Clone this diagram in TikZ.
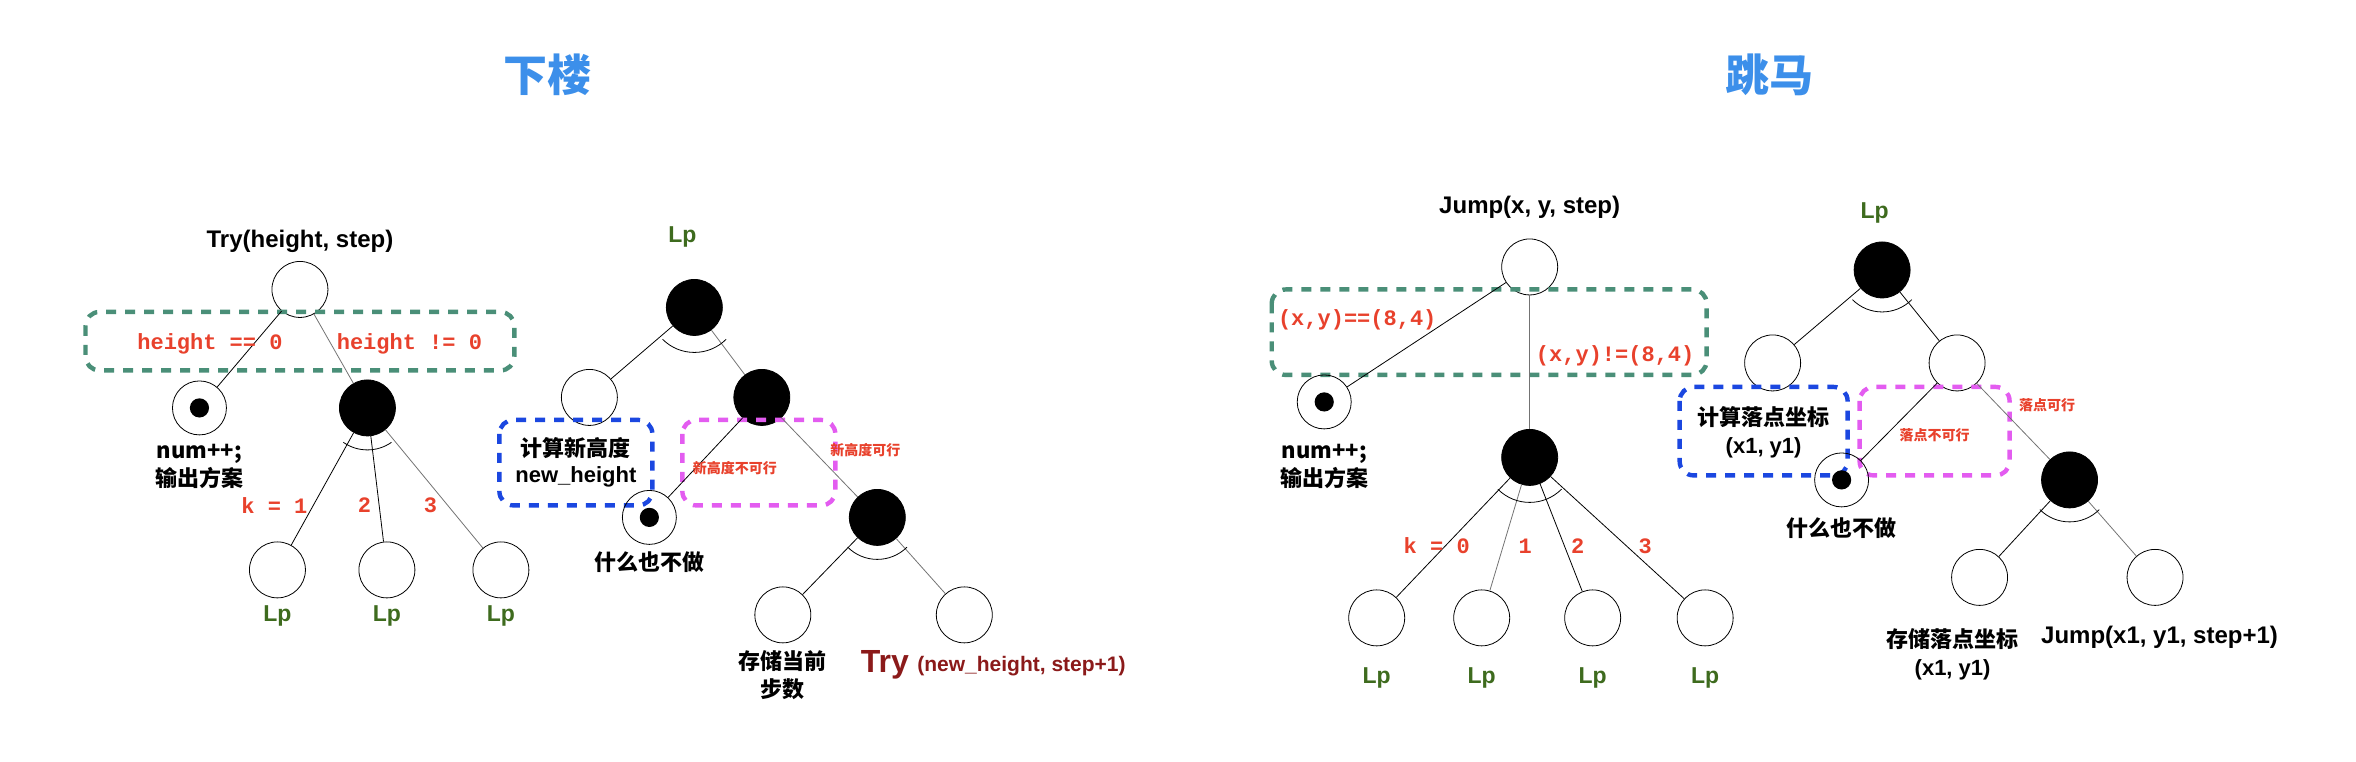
\documentclass[tikz,border=0pt]{standalone}
\usepackage{fontspec}
\setmainfont{Liberation Sans}
\setmonofont{Liberation Mono}
\newfontfamily\cjk{Noto Sans CJK SC}
\definecolor{tblue}{HTML}{3C8FEA}
\definecolor{lpgreen}{HTML}{3E6B1E}
\definecolor{cred}{HTML}{E8412C}
\definecolor{dred}{HTML}{8B1A1A}
\definecolor{bgreen}{HTML}{4A8F78}
\definecolor{bblue}{HTML}{1B47E0}
\definecolor{bmag}{HTML}{E35CF0}
\tikzset{
 wn/.style={circle,draw,thin,minimum size=28pt,inner sep=0},
 bn/.style={circle,draw,fill=black,minimum size=28pt,inner sep=0},
 ln/.style={circle,draw,thin,minimum size=27pt,inner sep=0,path picture={\fill (path picture bounding box.center) circle (4.8pt);}},
 lbl/.style={font=\bfseries\fontsize{12}{15}\selectfont},
 lp/.style={text=lpgreen,font=\bfseries\fontsize{11.5}{13}\selectfont},
 cond/.style={text=cred,font=\ttfamily\bfseries\fontsize{11}{13}\selectfont},
 small/.style={text=cred,font=\cjk\bfseries\fontsize{7}{8}\selectfont},
 cn/.style={font=\cjk\bfseries\fontsize{11}{14}\selectfont,align=center},
 box/.style={draw,line width=2.2pt,dash pattern=on 5pt off 4.5pt,rounded corners=7pt},
 e/.style={draw=black!55,thin},
 eb/.style={draw=black,thin},
}
\begin{document}
\begin{tikzpicture}[x=0.75pt,y=-0.75pt]
\useasboundingbox (0,0) rectangle (1571,508);
\node[text=tblue,font=\cjk\bfseries\fontsize{22}{26}\selectfont] (t1) at (365,50) {下楼};
\node[text=tblue,font=\cjk\bfseries\fontsize{22}{26}\selectfont] (t2) at (1180,50) {跳马};
% left tree
\node[lbl] (tryl) at (200,161) {Try(height, step)};
\node[wn] (r1) at (200,193) {};
\draw[box,draw=bgreen] (57,208) rectangle (343,247);
\node[ln] (l1) at (133,272) {};
\node[bn] (b1) at (245,272) {};
\draw[eb] (r1) -- (l1);
\draw[e] (r1) -- (b1);
\node[cond] (c1) at (140,229) {height == 0};
\node[cond] (c2) at (273,229) {height != 0};
\node[cn] (n1) at (133,311) {num++;\\输出方案};
\node[wn] (a1) at (185,380) {};
\node[wn] (a2) at (258,380) {};
\node[wn] (a3) at (334,380) {};
\draw[eb] (b1) -- (a1); \draw[eb] (b1) -- (a2); \draw[e] (b1) -- (a3);
\draw (b1.center) ++(125:28) arc (125:55:28);
\node[cond] (k1) at (183,337) {k = 1};
\node[cond] (k2) at (243,337) {2};
\node[cond] (k3) at (287,337) {3};
\node[lp] at (185,411) {Lp};
\node[lp] at (258,411) {Lp};
\node[lp] at (334,411) {Lp};
% middle tree
\node[lp] (lpm) at (455,158) {Lp};
\node[bn] (m0) at (463,205) {};
\node[wn] (m1) at (393,265) {};
\node[bn] (m2) at (508,265) {};
\draw[eb] (m0) -- (m1); \draw[e] (m0) -- (m2);
\draw (m0.center) ++(135:30) arc (135:45:30);
\draw[box,draw=bblue] (333,280) rectangle (435,337);
\node[cn] (tx1) at (384,308) {计算新高度\\[-1pt]{\normalfont\bfseries new\_height}};
\draw[box,draw=bmag] (455,280) rectangle (557,337);
\node[ln] (m3) at (433,345) {};
\node[bn] (m4) at (585,345) {};
\draw[eb] (m2) -- (m3); \draw[e] (m2) -- (m4);
\node[small] at (490,312) {新高度不可行};
\node[small] at (577,300) {新高度可行};
\node[cn] at (433,375) {什么也不做};
\node[wn] (m5) at (522,410) {};
\node[wn] (m6) at (643,410) {};
\draw[eb] (m4) -- (m5); \draw[e] (m4) -- (m6);
\draw (m4.center) ++(135:28) arc (135:45:28);
\node[cn] at (522,450) {存储当前\\步数};
\node[text=dred,font=\bfseries\fontsize{16}{18}\selectfont] (tr) at (590,443) {Try};
\node[text=dred,font=\bfseries\fontsize{10.5}{12}\selectfont,anchor=west] at (607,444) {(new\_height, step+1)};
% right tree
\node[lbl] (jl) at (1020,138) {Jump(x, y, step)};
\node[wn] (j0) at (1020,178) {};
\draw[box,draw=bgreen] (848,193) rectangle (1138,250);
\node[ln] (j1) at (883,268) {};
\node[bn] (j2) at (1020,305) {};
\draw[eb] (j0) -- (j1); \draw[e] (j0) -- (j2);
\node[cond] at (905,213) {(x,y)==(8,4)};
\node[cond] at (1077,237) {(x,y)!=(8,4)};
\node[cn] at (883,311) {num++;\\输出方案};
\node[wn] (g1) at (918,412) {};
\node[wn] (g2) at (988,412) {};
\node[wn] (g3) at (1062,412) {};
\node[wn] (g4) at (1137,412) {};
\draw[eb] (j2) -- (g1); \draw[e] (j2) -- (g2); \draw[eb] (j2) -- (g3); \draw[eb] (j2) -- (g4);
\draw (j2.center) ++(135:30) arc (135:45:30);
\node[cond] at (958,364) {k = 0};
\node[cond] at (1017,364) {1};
\node[cond] at (1052,364) {2};
\node[cond] at (1097,364) {3};
\node[lp] at (918,452) {Lp};
\node[lp] at (988,452) {Lp};
\node[lp] at (1062,452) {Lp};
\node[lp] at (1137,452) {Lp};
% far right tree
\node[lp] at (1250,142) {Lp};
\node[bn] (h0) at (1255,180) {};
\node[wn] (h1) at (1182,242) {};
\node[wn] (h2) at (1305,242) {};
\draw[eb] (h0) -- (h1); \draw[eb] (h0) -- (h2);
\draw (h0.center) ++(135:28) arc (135:45:28);
\draw[box,draw=bblue] (1120,258) rectangle (1232,317);
\node[cn] at (1176,288) {计算落点坐标\\{\normalfont\bfseries (x1, y1)}};
\draw[box,draw=bmag] (1240,258) rectangle (1340,317);
\node[ln] (h3) at (1228,320) {};
\node[bn] (h4) at (1380,320) {};
\draw[eb] (h2) -- (h3); \draw[e] (h2) -- (h4);
\node[small] at (1290,290) {落点不可行};
\node[small] at (1365,270) {落点可行};
\node[cn] at (1228,352) {什么也不做};
\node[wn] (h5) at (1320,385) {};
\node[wn] (h6) at (1437,385) {};
\draw[eb] (h4) -- (h5); \draw[e] (h4) -- (h6);
\draw (h4.center) ++(135:28) arc (135:45:28);
\node[cn] at (1302,436) {存储落点坐标\\{\normalfont\bfseries (x1, y1)}};
\node[lbl] at (1440,425) {Jump(x1, y1, step+1)};
\end{tikzpicture}
\end{document}
